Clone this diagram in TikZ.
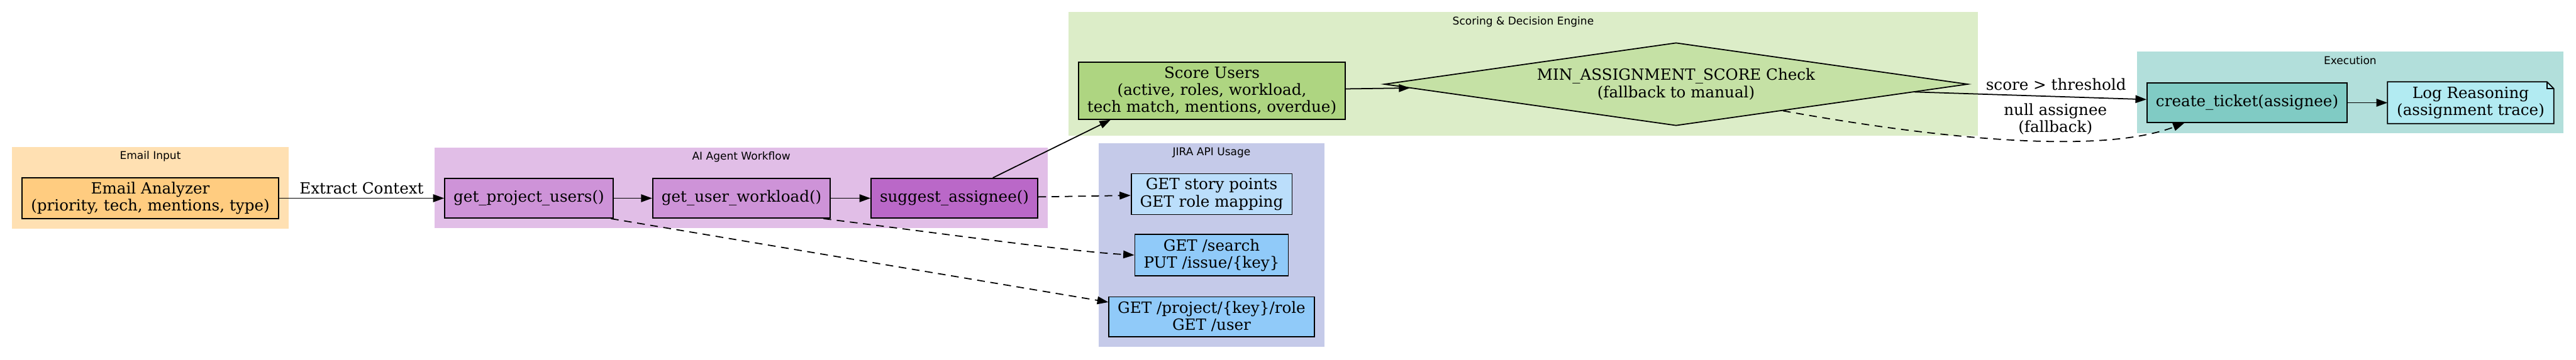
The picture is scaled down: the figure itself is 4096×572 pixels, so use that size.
\documentclass[tikz,border=0pt]{standalone}
\usepackage{fontspec}
\setmainfont{DejaVu Serif}
\setsansfont{DejaVu Sans}
\usetikzlibrary{shapes,arrows.meta,fit,calc,backgrounds}
\definecolor{emailbg}{HTML}{FFE0B2}
\definecolor{emailfill}{HTML}{FFCC80}
\definecolor{agentbg}{HTML}{E1BEE7}
\definecolor{agentfill}{HTML}{CE93D8}
\definecolor{suggestfill}{HTML}{BA68C8}
\definecolor{scorebg}{HTML}{DCEDC8}
\definecolor{scorefill}{HTML}{AED581}
\definecolor{checkfill}{HTML}{C5E1A5}
\definecolor{jirabg}{HTML}{C5CAE9}
\definecolor{jiralight}{HTML}{BBDEFB}
\definecolor{jirafill}{HTML}{90CAF9}
\definecolor{execbg}{HTML}{B2DFDB}
\definecolor{execfill}{HTML}{80CBC4}
\definecolor{logfill}{HTML}{B2EBF2}

\begin{document}
\begin{tikzpicture}[x=0.2mm, y=-0.2mm, font=\fontsize{14}{15.5}\selectfont]
\tikzset{box/.style={rectangle, draw, line width=1pt, inner xsep=8pt,
                     inner ysep=4pt, minimum height=36pt, align=center},
         cluster/.style={rectangle, draw=none, inner sep=3mm},
         ctitle/.style={anchor=north, inner sep=4pt,
                        font=\sffamily\fontsize{9.7}{11.6}\selectfont},
         flow/.style={-{Triangle[length=10pt,width=7pt]}, line width=1pt},
         call/.style={flow, dash pattern=on 7pt off 5pt},
         elabel/.style={align=center}}
\useasboundingbox (0,0) rectangle (4096,572);

% email input
\node(analyzer) [box, fill=emailfill] at (239,315.5)
  {Email Analyzer\\(priority, tech, mentions, type)};

% agent workflow
\node(projusers) [box, fill=agentfill, right of=analyzer, node distance=120.4mm]
  {get\_project\_users()};
\node(workload) [box, fill=agentfill, right of=projusers, node distance=67.6mm]
  {get\_user\_workload()};
\node(suggest) [box, fill=suggestfill, right of=workload, node distance=67.7mm]
  {suggest\_assignee()};

% jira api
\node(api1) [box, fill=jiralight] at (1926.5,309)
  {GET story points\\GET role mapping};
\node(api2) [box, fill=jirafill, below of=api1, node distance=19.4mm]
  {GET /search\\PUT /issue/\{key\}};
\node(api3) [box, fill=jirafill, below of=api2, node distance=19.6mm]
  {GET /project/\{key\}/role\\GET /user};

% scoring
\node(score) [box, fill=scorefill] at (1927,144.5)
  {Score Users\\(active, roles, workload,\\tech match, mentions, overdue)};
\node(check) [diamond, aspect=7, draw, line width=1pt, fill=checkfill,
              minimum width=185.6mm, minimum height=26.4mm, inner sep=0pt,
              align=center] at (2665,134)
  {MIN\_ASSIGNMENT\_SCORE Check\\(fallback to manual)};

% execution
\node(create) [box, fill=execfill] at (3573,163.5)
  {create\_ticket(assignee)};
\node(logr) [box, draw=none, right of=create, node distance=71.1mm]
  {Log Reasoning\\(assignment trace)};

\coordinate (emailtop) at ($(analyzer.north)+(0,-33)$);
\coordinate (agenttop) at ($(projusers.north)+(0,-33)$);
\coordinate (scoretop) at ($(check.north)+(0,-33)$);
\coordinate (jiratop) at ($(api1.north)+(0,-33)$);
\coordinate (exectop) at ($(logr.north)+(0,-33)$);

\begin{scope}[on background layer]
\node(emailbox) [cluster, fill=emailbg, fit=(analyzer) (emailtop)] {};
\node(agentbox) [cluster, fill=agentbg, fit=(projusers) (suggest) (agenttop)] {};
\node(scorebox) [cluster, fill=scorebg,
                 fit=(score) (check.east) (check.south) (scoretop)] {};
\node(jirabox) [cluster, fill=jirabg, fit=(api1) (api3) (jiratop)] {};
\node(execbox) [cluster, fill=execbg, fit=(create) (logr) (exectop)] {};
% note outline
\draw[line width=1pt, fill=logfill] (logr.north west)
  -- ($(logr.north east)+(-11,0)$) -- ($(logr.north east)+(0,11)$)
  -- (logr.south east) -- (logr.south west) -- cycle;
\draw[line width=1pt] ($(logr.north east)+(-11,0)$) -- ($(logr.north east)+(-11,11)$)
  -- ($(logr.north east)+(0,11)$);
\end{scope}

\node(emailtitle) [ctitle] at (emailbox.north) {Email Input};
\node(agenttitle) [ctitle] at (agentbox.north) {AI Agent Workflow};
\node(scoretitle) [ctitle] at (scorebox.north) {Scoring \& Decision Engine};
\node(jiratitle) [ctitle] at (jirabox.north) {JIRA API Usage};
\node(exectitle) [ctitle] at (execbox.north) {Execution};

% connectors
\draw[flow] (analyzer) -- node[above, elabel] {Extract Context} (projusers);
\draw[flow] (projusers) -- (workload);
\draw[flow] (workload) -- (suggest);
\draw[flow] (suggest.28) -- (score.196);
\draw[flow] (score) -- (check);
\draw[flow] (check) -- node[above=2pt, elabel, pos=0.61] {score > threshold} (create);
\draw[call] (check.-14) .. controls (3050,215) and (3330,250) ..
  node[above=1.5pt, elabel, pos=0.63] {null assignee\\(fallback)} (create.-162);
\draw[flow] (create) -- (logr);
\draw[call] (suggest) -- (api1);
\draw[call] (workload.-14) .. controls (1500,372) and (1700,400) .. (api2.west);
\draw[call] (projusers.-14) -- (api3.172);
\end{tikzpicture}
\end{document}
